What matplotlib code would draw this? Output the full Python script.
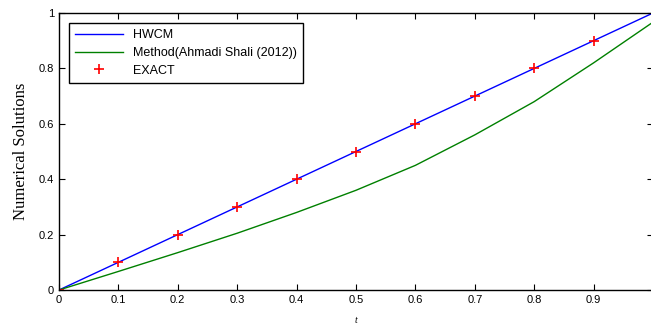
import numpy as np
import matplotlib.pyplot as plt

# data
t = [0, 0.1, 0.2, 0.3, 0.4, 0.5, 0.6, 0.7, 0.8, 0.9, 1.0]
hwcm = [0, 0.1, 0.2, 0.3, 0.4, 0.5, 0.6, 0.7, 0.8, 0.9, 1.0]
ahmadi = [0, 0.067, 0.135, 0.205, 0.28, 0.36, 0.45, 0.56, 0.68, 0.82, 0.967]
t_exact = [0, 0.1, 0.2, 0.3, 0.4, 0.5, 0.6, 0.7, 0.8, 0.9]
exact = [0, 0.1, 0.2, 0.3, 0.4, 0.5, 0.6, 0.7, 0.8, 0.9]
xticks = [0, 0.1, 0.2, 0.3, 0.4, 0.5, 0.6, 0.7, 0.8, 0.9]
yticks = [0, 0.2, 0.4, 0.6, 0.8, 1]

plt.rcParams['font.family'] = ['Liberation Sans', 'DejaVu Sans']

fig = plt.figure(figsize=(6.51, 3.25), dpi=100)
ax = fig.add_axes([59 / 651, 35 / 325, 594 / 651, 277 / 325])

ax.plot(t, hwcm, color='blue', lw=1.0, label='HWCM')
ax.plot(t, ahmadi, color='#008000', lw=1.0, label='Method(Ahmadi Shali (2012))')
ax.plot(t_exact, exact, '+', color='red', ms=7, mew=1.2, label='EXACT')

ax.set_xlim(0, 1)
ax.set_ylim(0, 1)
ax.set_xticks(xticks)
ax.set_xticklabels([f'{v:g}' for v in xticks])
ax.set_yticks(yticks)
ax.set_yticklabels([f'{v:g}' for v in yticks])
ax.tick_params(direction='in', labelsize=8, length=4, top=True, right=True)
for s in ax.spines.values():
    s.set_linewidth(1.0)

ax.set_xlabel('t', fontsize=7, style='italic', family='Liberation Serif', labelpad=8)
ax.set_ylabel('Numerical Solutions', fontsize=12, family='Liberation Serif', labelpad=7)

leg = ax.legend(loc='upper left', fontsize=9, fancybox=False, framealpha=1,
                edgecolor='black', borderaxespad=0.8, handlelength=3.8,
                labelspacing=0.45, borderpad=0.5)
leg.get_frame().set_linewidth(1.0)

fig.savefig('out.png', dpi=100)
